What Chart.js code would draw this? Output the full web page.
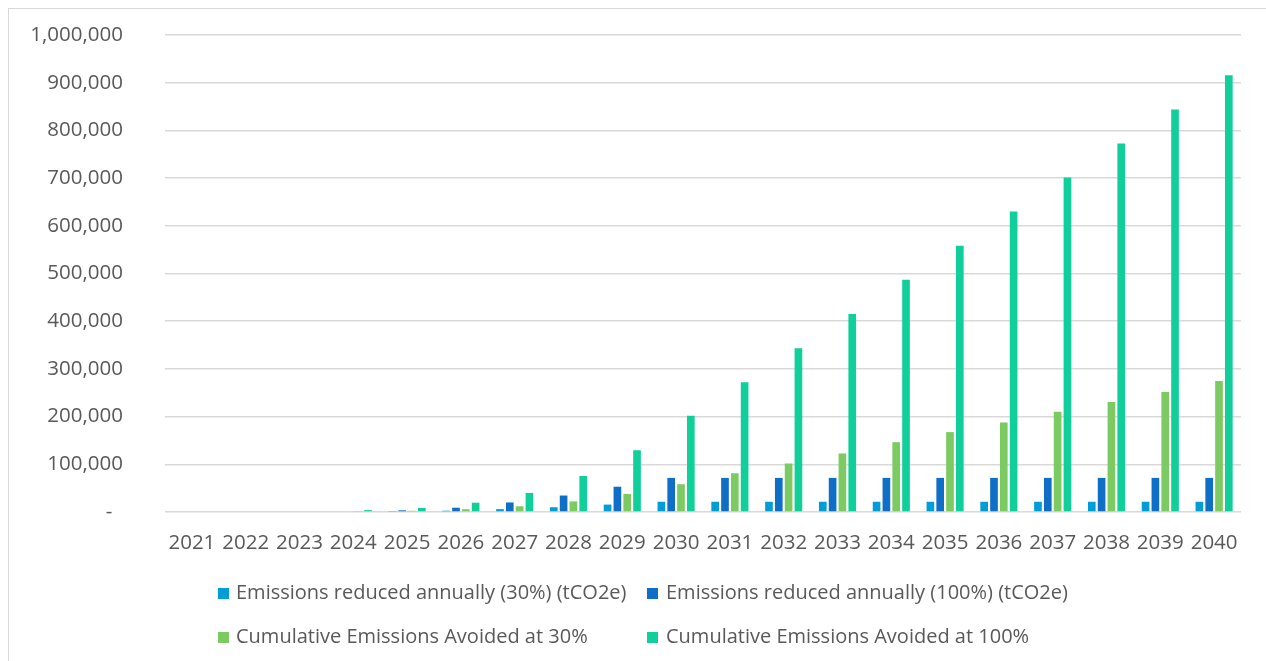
<!DOCTYPE html>
<html>
<head>
<meta charset="utf-8">
<script src="https://cdn.jsdelivr.net/npm/chart.js@4/dist/chart.umd.min.js"></script>
<style>
  html, body { margin: 0; padding: 0; background: #ffffff; }
  #wrap { position: relative; width: 1266px; height: 661px; overflow: hidden; }
  #frame { position: absolute; left: 8px; top: 8px; width: 1300px; height: 700px;
           border-top: 1px solid #d9d9d9; border-left: 1px solid #d9d9d9; box-sizing: border-box; }
  #chart { position: absolute; left: 0; top: 0; }
  .leg { position: absolute; font-family: "Open Sans", sans-serif; font-size: 20px; color: #595959;
         white-space: nowrap; line-height: 22px; }
  .leg .box { position: absolute; width: 11px; height: 11px; }
  .leg .txt { position: absolute; }
</style>
</head>
<body>
<div id="wrap">
  <div id="frame"></div>
  <canvas id="chart" width="1266" height="661"></canvas>
  <div id="legend"></div>
</div>
<script>
// Years on the category axis
const years = ['2021','2022','2023','2024','2025','2026','2027','2028','2029','2030',
               '2031','2032','2033','2034','2035','2036','2037','2038','2039','2040'];

// Annual reductions (tCO2e)
const annual30  = [0, 0, 0, 0, 1050, 2700, 6000, 10000, 15500, 21450,
                   21450, 21450, 21450, 21450, 21450, 21450, 21450, 21450, 21450, 21450];
const annual100 = [0, 0, 0, 0, 3500, 9000, 20000, 34500, 53000, 71500,
                   71500, 71500, 71500, 71500, 71500, 71500, 71500, 71500, 71500, 71500];

// Cumulative avoided emissions (tCO2e)
const cumulative30  = [0, 0, 0, 1200, 2500, 5800, 12000, 22200, 37800, 58200,
                       81300, 101700, 122700, 146400, 167500, 187800, 210000, 230500, 251600, 274700];
const cumulative100 = [0, 0, 0, 4000, 8500, 19500, 40000, 75500, 129500, 202000,
                       272000, 343500, 415000, 487000, 558000, 630000, 701000, 772500, 844000, 915500];

const seriesNames = [
  'Emissions reduced annually (30%) (tCO2e)',
  'Emissions reduced annually (100%) (tCO2e)',
  'Cumulative Emissions Avoided at 30%',
  'Cumulative Emissions Avoided at 100%'
];
const seriesColors = ['#009DD9', '#0F6FC6', '#7CCA62', '#10CF9B'];
const seriesValues = [annual30, annual100, cumulative30, cumulative100];

// Value axis range
const yMin = 0, yMax = 1000000, yStep = 100000;

const axisFont = { family: '"Open Sans", sans-serif', size: 20.5 };
const textColor = '#595959';

const chart = new Chart(document.getElementById('chart'), {
  type: 'bar',
  data: {
    labels: years,
    datasets: seriesNames.map((name, i) => ({
      label: name,
      data: seriesValues[i],
      backgroundColor: seriesColors[i],
      borderWidth: 0,
      categoryPercentage: 0.73,
      barPercentage: 0.78
    }))
  },
  options: {
    responsive: false,
    animation: false,
    layout: { padding: { left: 0, right: 25, top: 35, bottom: 99 } },
    plugins: { legend: { display: false }, tooltip: { enabled: false } },
    scales: {
      x: {
        grid: { display: false },
        border: { display: false },
        ticks: { color: textColor, font: axisFont, padding: 11, maxRotation: 0, autoSkip: false },
        afterFit: (s) => { s.height = 50; }
      },
      y: {
        min: yMin, max: yMax,
        // invisible tick marks keep the labels clear of the plot edge
        grid: { color: '#d9d9d9', lineWidth: 1.5, drawTicks: true, tickLength: 40,
                tickColor: 'rgba(0,0,0,0)' },
        border: { display: false },
        ticks: {
          stepSize: yStep, color: textColor, font: axisFont, padding: 2,
          callback: (v) => v === 0 ? '-  ' : v.toLocaleString('en-US')
        },
        afterFit: (s) => { s.width = 165; }
      }
    }
  }
});

// Two-column legend beneath the plot, built from the chart's datasets
const legendPos = [
  { box: 218, text: 236, y: 593 },
  { box: 647, text: 666, y: 593 },
  { box: 218, text: 236, y: 637 },
  { box: 647, text: 666, y: 637 }
];
const legendEl = document.getElementById('legend');
chart.data.datasets.forEach((ds, i) => {
  const p = legendPos[i];
  const item = document.createElement('div');
  item.className = 'leg';
  item.style.left = '0px';
  item.style.top = (p.y - 11) + 'px';
  const box = document.createElement('span');
  box.className = 'box';
  box.style.left = p.box + 'px';
  box.style.top = '6px';
  box.style.background = ds.backgroundColor;
  const txt = document.createElement('span');
  txt.className = 'txt';
  txt.style.left = p.text + 'px';
  txt.style.top = '-1px';
  txt.textContent = ds.label;
  item.appendChild(box);
  item.appendChild(txt);
  legendEl.appendChild(item);
});
</script>
</body>
</html>
